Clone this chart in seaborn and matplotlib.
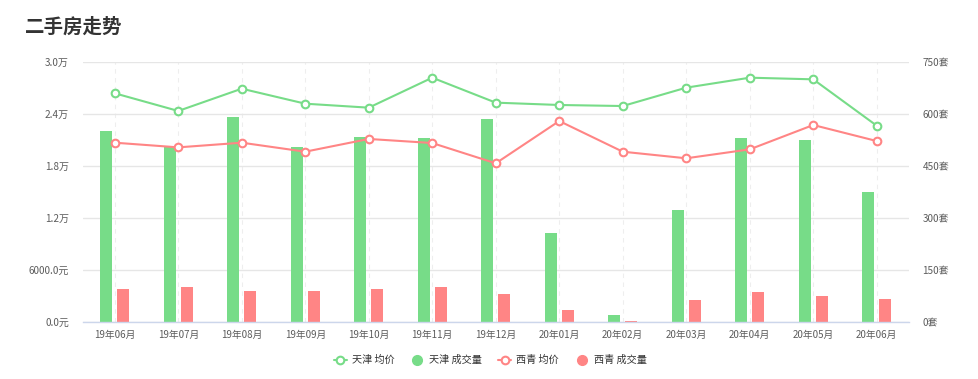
import matplotlib
matplotlib.use("Agg")
import matplotlib.pyplot as plt
from matplotlib.lines import Line2D
import seaborn as sns
import pandas as pd

months = ["19年06月", "19年07月", "19年08月", "19年09月", "19年10月", "19年11月", "19年12月",
          "20年01月", "20年02月", "20年03月", "20年04月", "20年05月", "20年06月"]
tj_price = [26390, 24350, 26920, 25190, 24730, 28190, 25310, 25040, 24920, 27040, 28190, 28000, 22650]
xq_price = [20690, 20150, 20690, 19650, 21120, 20650, 18310, 23190, 19650, 18890, 19920, 22730, 20880]
tj_vol = [551, 509, 591, 505, 534, 530, 585, 256, 21, 323, 532, 525, 376]
xq_vol = [95, 101, 89, 89, 95, 101, 81, 36, 4, 63, 86, 75, 66]
cities = ["天津", "西青"]
left_ticks = [0, 6000, 12000, 18000, 24000, 30000]
right_ticks = [0, 150, 300, 450, 600, 750]

GREEN = "#77dc88"
RED = "#ff8585"

sns.set_theme(style="white")
plt.rcParams["font.family"] = ["Noto Sans CJK SC", "DejaVu Sans"]

vol_df = pd.DataFrame({
    "month": months * 2,
    "city": [cities[0]] * len(months) + [cities[1]] * len(months),
    "vol": tj_vol + xq_vol,
})
price_df = pd.DataFrame({
    "month": months * 2,
    "city": [cities[0]] * len(months) + [cities[1]] * len(months),
    "price": tj_price + xq_price,
})

fig = plt.figure(figsize=(9.79, 3.79), dpi=100)
ax = fig.add_axes([83 / 979, 57 / 379, (908.5 - 83) / 979, 260 / 379])

sns.barplot(data=vol_df, x="month", y="vol", hue="city", hue_order=cities,
            palette=[GREEN, RED], width=0.54, gap=0.3, saturation=1,
            ax=ax, legend=False, order=months, linewidth=0)

ax2 = ax.twinx()
sns.lineplot(data=price_df, x="month", y="price", hue="city", hue_order=cities,
             palette=[GREEN, RED], marker="o", markersize=5.5,
             markerfacecolor="white", markeredgewidth=1.5, linewidth=1.5,
             ax=ax2, legend=False, sort=False)
for ln, c in zip(ax2.get_lines(), [GREEN, RED]):
    ln.set_markeredgecolor(c)

ax.set_xlim(-0.5, len(months) - 0.5)
ax.set_ylim(0, 750)
ax2.set_ylim(0, 30000)

# right axis (volume)
ax.yaxis.tick_right()
ax.set_yticks(right_ticks)
ax.set_yticklabels([f"{v}套" for v in right_ticks])
# left axis (price)
ax2.yaxis.tick_left()
ax2.set_yticks(left_ticks)
ax2.set_yticklabels([f"{v:.1f}元" if v < 10000 else f"{v / 10000:.1f}万" for v in left_ticks])

for a in (ax, ax2):
    a.set_xlabel("")
    a.set_ylabel("")
    for s in a.spines.values():
        s.set_visible(False)
    a.tick_params(axis="y", length=0, labelsize=7.2, labelcolor="#5c5c5c", pad=10)

ax2.patch.set_visible(False)
ax.spines["bottom"].set_visible(True)
ax.spines["bottom"].set_color("#ccd6eb")
ax.spines["bottom"].set_linewidth(1)
ax.tick_params(axis="x", length=4, color="#ccd6eb", labelsize=7, labelcolor="#5c5c5c", pad=2)
ax2.tick_params(axis="x", length=0, labelbottom=False)

ax.set_axisbelow(True)
ax.yaxis.grid(True, color="#e6e6e6", linewidth=1)
ax.xaxis.grid(True, color="#eeeeee", linewidth=0.8, linestyle=(0, (4, 4)))
ax2.grid(False)

fig.text(25 / 979, 1 - 27 / 379, "二手房走势", fontsize=14, fontweight="bold",
         color="#333333", va="center", ha="left")

handles = [
    Line2D([0], [0], color=GREEN, lw=1.5, marker="o", markersize=5.5, markerfacecolor="white",
           markeredgecolor=GREEN, markeredgewidth=1.5),
    Line2D([0], [0], color=GREEN, lw=0, marker="o", markersize=7, markerfacecolor=GREEN,
           markeredgecolor=GREEN),
    Line2D([0], [0], color=RED, lw=1.5, marker="o", markersize=5.5, markerfacecolor="white",
           markeredgecolor=RED, markeredgewidth=1.5),
    Line2D([0], [0], color=RED, lw=0, marker="o", markersize=7, markerfacecolor=RED,
           markeredgecolor=RED),
]
labels = ["天津 均价", "天津 成交量", "西青 均价", "西青 成交量"]
fig.legend(handles, labels, loc="center", bbox_to_anchor=(490 / 979, 1 - 360 / 379), ncol=4,
           frameon=False, fontsize=7.3, handlelength=1.3, handletextpad=0.5, columnspacing=1.6,
           labelcolor="#333333")

fig.savefig("out.png", dpi=100)
